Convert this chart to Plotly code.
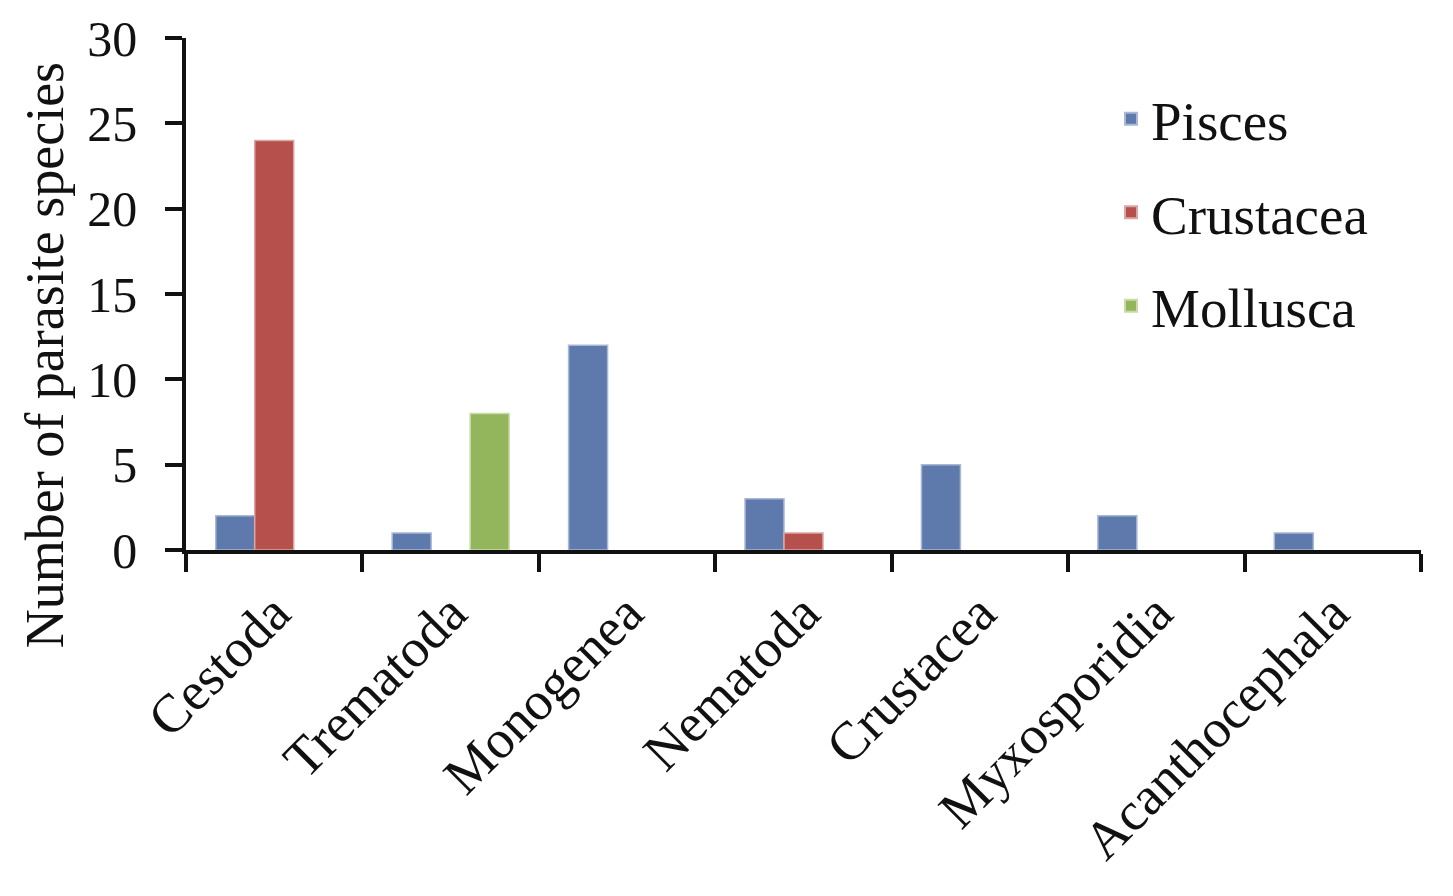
import plotly.graph_objects as go

categories = ["Cestoda", "Trematoda", "Monogenea", "Nematoda", "Crustacea", "Myxosporidia", "Acanthocephala"]
pisces = [2, 1, 12, 3, 5, 2, 1]
crustacea = [24, 0, 0, 1, 0, 0, 0]
mollusca = [0, 8, 0, 0, 0, 0, 0]
y_ticks = [0, 5, 10, 15, 20, 25, 30]

series = [
    ("Pisces", pisces, "#5E79AC", "#a9b8d6"),
    ("Crustacea", crustacea, "#B5504C", "#dca6a4"),
    ("Mollusca", mollusca, "#93B55B", "#c9dca8"),
]

FONT = "Liberation Serif, Times New Roman, serif"

fig = go.Figure()
for name, vals, col, edge in series:
    fig.add_trace(go.Bar(
        x=categories, y=[v if v else None for v in vals], name=name, legendgroup=name,
        marker=dict(color=col, line=dict(color=edge, width=1.5)),
    ))

fig.update_layout(
    width=1453, height=896,
    barmode="group", bargap=0.337, bargroupgap=0,
    plot_bgcolor="white", paper_bgcolor="white",
    margin=dict(l=178, r=40, t=30, b=354, autoexpand=False),
    font=dict(family=FONT, size=50, color="black"),
    showlegend=True,
    legend=dict(
        x=0.749, y=0.925, xanchor="left", yanchor="top",
        font=dict(family=FONT, size=55, color="#111"),
        tracegroupgap=19, itemsizing="constant",
        bgcolor="rgba(0,0,0,0)",
    ),
    xaxis=dict(
        showline=True, linecolor="#111", linewidth=3.5,
        ticks="outside", ticklen=18, tickwidth=3.5, tickcolor="#111",
        tickson="boundaries", tickangle=-45, ticklabelstandoff=6,
        tickfont=dict(family=FONT, size=54, color="#111"),
        showgrid=False, zeroline=False, automargin=False,
    ),
    yaxis=dict(
        range=[0, 30], tickvals=y_ticks, ticktext=[str(v) for v in y_ticks],
        showline=True, linecolor="#111", linewidth=3.5,
        ticks="outside", ticklen=17, tickwidth=3.5, tickcolor="#111",
        ticklabelstandoff=18,
        tickfont=dict(family=FONT, size=50, color="#111"),
        showgrid=False, zeroline=False, automargin=False,
    ),
    annotations=[dict(
        text="Number of parasite species", textangle=-90,
        xref="paper", yref="paper", x=-0.114, y=0.381,
        xanchor="center", yanchor="middle", showarrow=False,
        font=dict(family=FONT, size=54, color="#111"),
    )],
)

fig.write_html("out.html")
